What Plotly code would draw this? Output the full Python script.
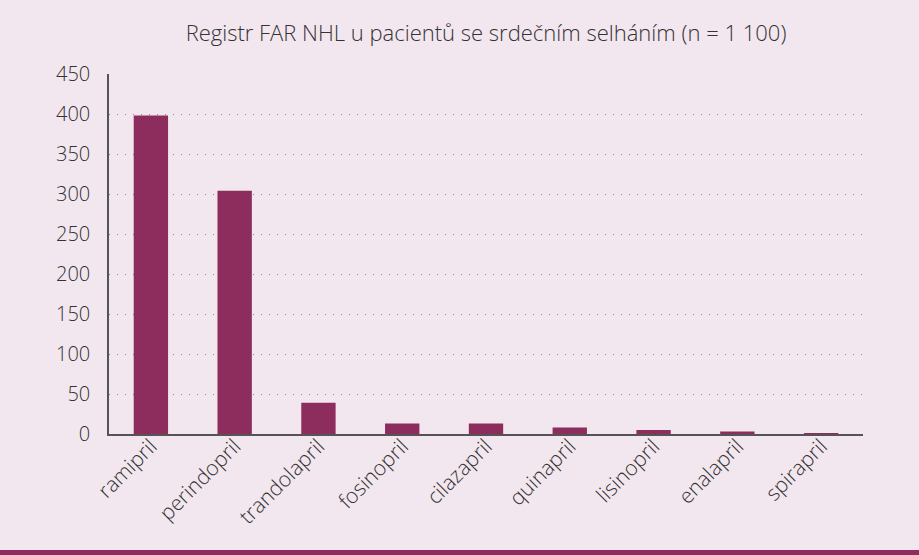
import plotly.graph_objects as go

# ACE inhibitor usage in the FAR NHL registry
drugs = ["ramipril", "perindopril", "trandolapril", "fosinopril", "cilazapril",
         "quinapril", "lisinopril", "enalapril", "spirapril"]
patients = [398, 304, 39, 13, 13, 8, 5, 3, 1]

y_ticks = [0, 50, 100, 150, 200, 250, 300, 350, 400, 450]

bg = "#F2E7EE"
bar_color = "#8C2D5D"
text_color = "#343234"
font_family = "Open Sans, Lato, sans-serif"

fig = go.Figure(
    go.Bar(
        x=drugs,
        y=patients,
        marker=dict(color=bar_color, line=dict(width=0)),
        width=0.41,
        hoverinfo="x+y",
    )
)

W, H = 919, 555
ml, mr, mt, mb = 109, 56, 74, 121
plot_w = W - ml - mr
plot_h = H - mt - mb

fig.update_layout(
    width=W,
    height=H,
    margin=dict(l=ml, r=mr, t=mt, b=mb),
    paper_bgcolor=bg,
    plot_bgcolor=bg,
    showlegend=False,
    title=dict(
        text="Registr FAR NHL u pacientů se srdečním selháním (n = 1 100)",
        x=0.5,
        xref="paper",
        xanchor="center",
        y=(H - 33) / H,
        yanchor="middle",
        font=dict(family=font_family, size=22, color=text_color, weight=300),
    ),
    font=dict(family=font_family, color=text_color),
    bargap=0.59,
    xaxis=dict(
        type="category",
        tickangle=-45,
        tickfont=dict(size=21, color=text_color, weight=300),
        showline=True,
        linecolor="#555355",
        linewidth=1.5,
        showgrid=False,
        ticks="",
        zeroline=False,
        ticklabelstandoff=-10,
    ),
    yaxis=dict(
        range=[0, 450],
        tickvals=y_ticks,
        ticktext=[str(v) for v in y_ticks],
        tickfont=dict(size=20, color=text_color, weight=300),
        showline=True,
        linecolor="#555355",
        linewidth=1.5,
        showgrid=True,
        gridcolor="#8F8A8E",
        gridwidth=1,
        griddash="1px,7px",
        zeroline=False,
        ticks="",
        ticklabelstandoff=13,
    ),
    shapes=[
        # colored band along the bottom edge of the figure
        dict(
            type="rect",
            xref="paper",
            yref="paper",
            x0=-ml / plot_w,
            x1=1 + mr / plot_w,
            y0=-(mb) / plot_h,
            y1=-(mb - 5) / plot_h,
            fillcolor=bar_color,
            line=dict(width=0),
            layer="above",
        )
    ],
)

fig.write_html("out.html")
